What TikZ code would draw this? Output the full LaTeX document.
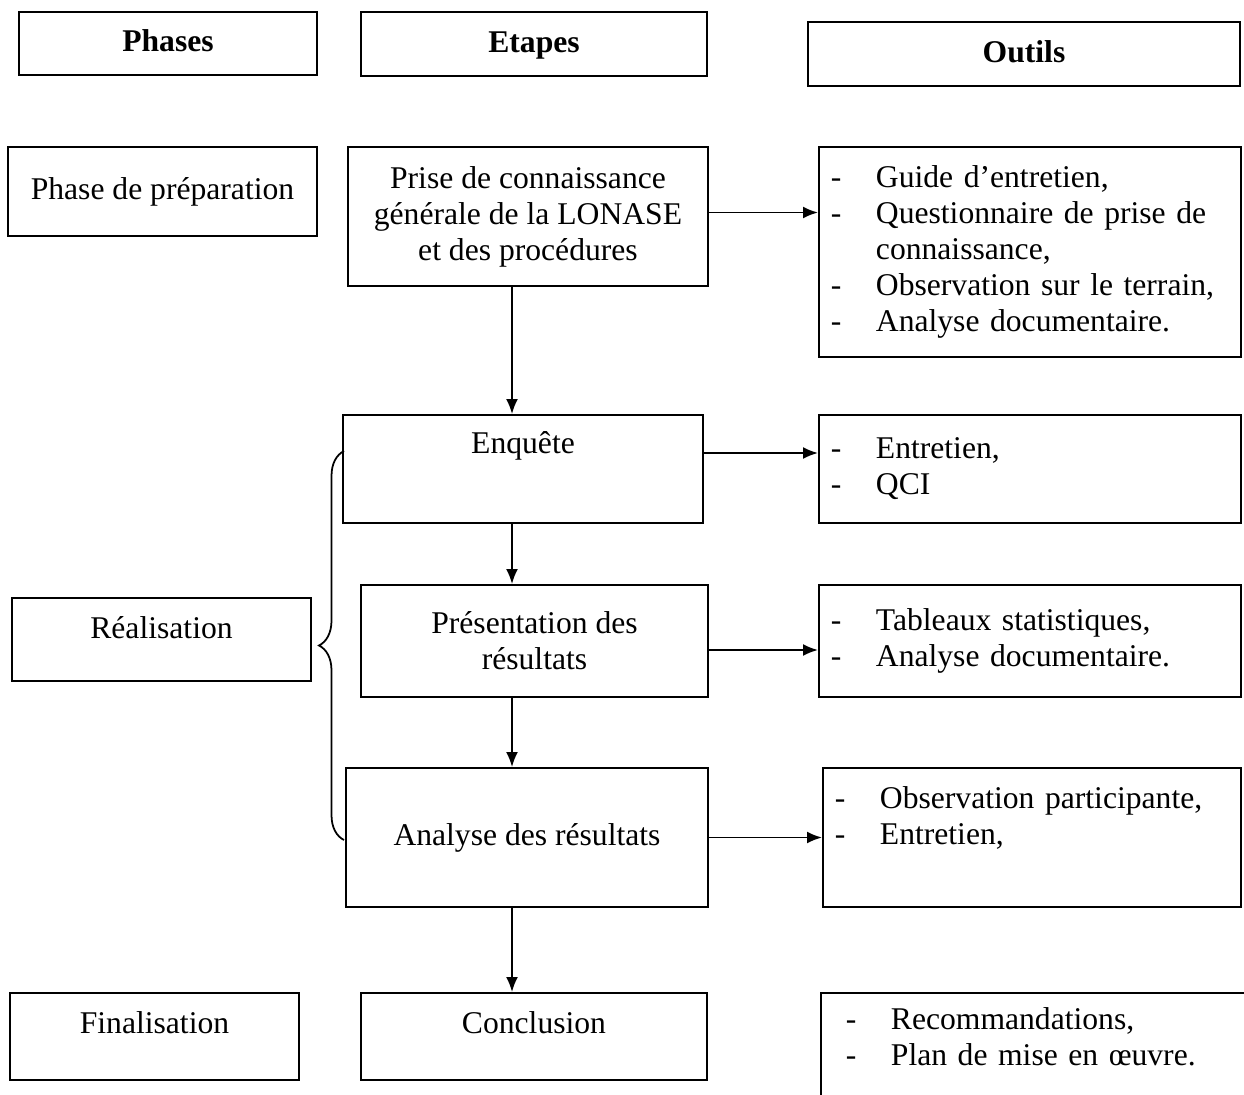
\documentclass[tikz,border=0pt]{standalone}
\usepackage{fontspec}
\setmainfont{Liberation Serif}
\usepackage{tikz}
\usetikzlibrary{positioning,arrows,arrows.meta,decorations.pathreplacing,calc}

\tikzstyle{hd}=[%
      rectangle, draw=black, line width=1.1pt, fill=none,
      font=\fontsize{18}{20.5}\selectfont\bfseries,
      text height=0.8cm, text depth=0.47cm, inner sep=0pt, align=center
]
\tikzstyle{ph}=[%
      rectangle, draw=black, line width=1.1pt, fill=none,
      inner sep=0pt, align=center
]
\tikzstyle{et}=[%
      rectangle, draw=black, line width=1.1pt, fill=none,
      inner sep=0pt, align=center
]
\tikzstyle{ou}=[%
      rectangle, draw=black, line width=1.1pt, fill=none, anchor=west,
      inner ysep=0pt, inner xsep=0.24cm, align=left
]
\newcommand{\liste}[1]{\begin{tabular}{@{}p{0.9cm}@{}l@{}}#1\end{tabular}}

\begin{document}
\begin{tikzpicture}[x=0.02cm, y=-0.02cm,
    font=\fontsize{18}{20.5}\selectfont,
    ->, line width=1.1pt,
    >={Latex[length=0.3cm,width=0.24cm]}
  ]
    \useasboundingbox (0,0) rectangle (1244,1095);

    % en-tetes
    \node[hd, minimum width=5.96cm] (phases) at (168,43.5) {Phases};
    \node[hd, minimum width=6.92cm] (etapes) at (534,44)   {Etapes};
    \node[hd, minimum width=8.64cm] (outils) at (1024,54)  {Outils};

    % phases
    \node[ph, minimum width=6.18cm, minimum height=1.78cm] (prep) at (162.5,191.5) {Phase de préparation};
    \node[ph, minimum width=5.98cm, text height=0.8cm, text depth=0.86cm] (real) at (161.5,639.5) {Réalisation};
    \node[ph, minimum width=5.78cm, text height=0.8cm, text depth=0.94cm] (fin)  at (154.5,1036.5) {Finalisation};

    % etapes
    \node[et, minimum width=7.2cm,  minimum height=2.78cm] (prise) at (528,216.5)
        {Prise de connaissance\\générale de la LONASE\\et des procédures};
    \node[et, minimum width=7.2cm,  text height=0.76cm, text depth=1.4cm] (enq) at (523,469) {Enquête};
    \node[et, minimum width=6.94cm, minimum height=2.24cm] (pres) at (534.5,641)
        {Présentation des\\résultats};
    \node[et, minimum width=7.24cm, minimum height=2.78cm] (ana) at (527,837.5) {Analyse des résultats};
    \node[et, minimum width=6.92cm, text height=0.8cm, text depth=0.94cm] (concl) at (534,1036.5) {Conclusion};

    % outils
    \node[ou, text width=7.96cm, minimum height=4.2cm] (out1) at (818,252) {\liste{%
        - & Guide d'entretien,\\
        - & \parbox[t]{6.86cm}{Questionnaire de prise de\linebreak connaissance,\strut}\\
        - & Observation sur le terrain,\\
        - & Analyse documentaire.}};
    \node[ou, text width=7.96cm, minimum height=2.16cm] (out2) at (818,469) {\liste{%
        - & Entretien,\\
        - & QCI}};
    \node[ou, text width=7.96cm, minimum height=2.24cm] (out3) at (818,641) {\liste{%
        - & Tableaux statistiques,\\
        - & Analyse documentaire.}};
    \node[ou, text width=7.88cm, minimum height=2.78cm] (out4) at (822,837.5) {\liste{%
        - & Observation participante,\\
        - & Entretien,\\
          & }};
    \node[ou, text width=8.52cm, minimum height=2.6cm, inner xsep=0.5cm] (out5) at (820,1058) {\liste{%
        - & Recommandations,\\
        - & Plan de mise en \oe uvre.\\
          & }};

    % fleches
    \coordinate (axe) at (512,0);
    \path ([yshift=0.08cm]prise.east) edge ([yshift=0.08cm]prise.east -| out1.west)
          (enq.base -| enq.east) edge (enq.base -| out2.west)
          ([yshift=-0.18cm]pres.east) edge ([yshift=-0.18cm]pres.east -| out3.west)
          (ana.east) edge (ana.east -| out4.west)
          (prise.south -| axe) edge (enq.north -| axe)
          (enq.south -| axe) edge (pres.north -| axe)
          (pres.south -| axe) edge (ana.north -| axe)
          (ana.south -| axe) edge (concl.north -| axe);

    % accolade
    \coordinate (acc1) at (344,840);
    \coordinate (acc2) at (344,451);
    \draw[-, line width=1pt, decorate, decoration={brace, amplitude=0.5cm}] (acc1) -- (acc2);
  \end{tikzpicture}
\end{document}
